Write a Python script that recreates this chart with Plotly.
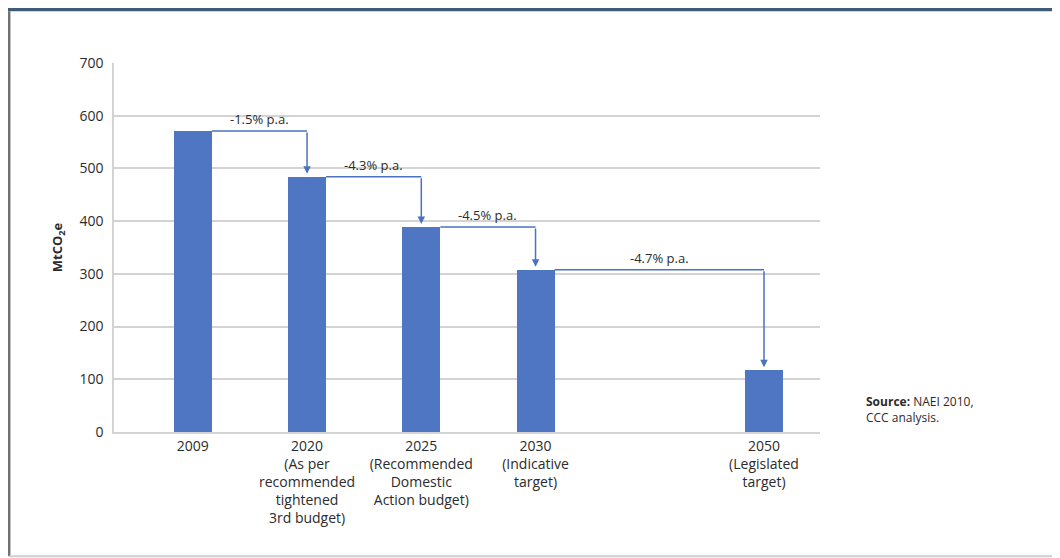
import plotly.graph_objects as go

# ---- data ----
years = ["2009", "2020", "2025", "2030", "2050"]
notes = ["", "(As per<br>recommended<br>tightened<br>3rd budget)",
         "(Recommended<br>Domestic<br>Action budget)",
         "(Indicative<br>target)", "(Legislated<br>target)"]
values = [571, 484, 389, 308, 117]
rates = ["-1.5% p.a.", "-4.3% p.a.", "-4.5% p.a.", "-4.7% p.a."]
axis_slots = ["2009", "2020", "2025", "2030", None, "2050"]  # empty slot before 2050

y_ticks = [0, 100, 200, 300, 400, 500, 600, 700]

# ---- styling ----
BAR = "#4f76c2"
LINE = "#4a72c0"
GRID = "#d3d3d3"
TXT = "#2b2b2b"
FONT = "Open Sans"
bar_w = 0.333

xpos = [axis_slots.index(y) for y in years]
ticktext = [y if not n else f"{y}<br>{n}" for y, n in zip(years, notes)]

fig = go.Figure()
fig.add_trace(go.Bar(x=xpos, y=values, width=bar_w, marker=dict(color=BAR, line=dict(width=0)),
                     showlegend=False, hoverinfo="skip"))

for i, r in enumerate(rates):
    x0 = xpos[i] + bar_w / 2
    x1 = xpos[i + 1]
    y0 = values[i]
    fig.add_trace(go.Scatter(x=[x0, x1], y=[y0, y0], mode="lines",
                             line=dict(color=LINE, width=1.5), showlegend=False, hoverinfo="skip"))
    fig.add_annotation(x=x1, y=values[i + 1], ax=x1, ay=y0, xref="x", yref="y",
                       axref="x", ayref="y", text="", showarrow=True, arrowhead=2,
                       arrowsize=1, arrowwidth=1.5, arrowcolor=LINE, standoff=3)
    fig.add_annotation(x=(x0 + x1) / 2, y=y0, xref="x", yref="y", text=r, showarrow=False,
                       yanchor="bottom", yshift=1, font=dict(family=FONT, size=13, color=TXT))

# source note
fig.add_annotation(xref="paper", yref="paper", x=1.063, y=0.06, xanchor="left", yanchor="middle",
                   align="left", showarrow=False,
                   text="<b>Source:</b> NAEI 2010,<br>CCC analysis.",
                   font=dict(family=FONT, size=12, color=TXT))

# frame shapes (paper coords relative to plot area)
fig.add_shape(type="rect", xref="paper", yref="paper", x0=-0.2, x1=1.4, y0=1.1400, y1=1.1495,
              fillcolor="#3e5b7a", line=dict(width=0), layer="above")
fig.add_shape(type="line", xref="paper", yref="paper", x0=-0.1484, x1=-0.1484, y0=1.14, y1=-0.337,
              line=dict(color="#707070", width=2.4))
fig.add_shape(type="line", xref="paper", yref="paper", x0=-0.1484, x1=1.4, y0=-0.337, y1=-0.337,
              line=dict(color="#c9d0d8", width=2))

fig.update_layout(
    width=1060, height=558,
    margin=dict(l=106, r=248, t=55, b=134),
    paper_bgcolor="white", plot_bgcolor="white",
    bargap=0,
    font=dict(family=FONT, size=14, color=TXT),
    xaxis=dict(range=[-0.69, 5.49], tickmode="array", tickvals=xpos, ticktext=ticktext,
               showgrid=False, zeroline=False, showline=True, linecolor=GRID, linewidth=1.5,
               ticks="", tickfont=dict(family=FONT, size=14, color=TXT)),
    yaxis=dict(range=[0, 700], tickmode="array", tickvals=y_ticks, showgrid=True,
               gridcolor=GRID, gridwidth=1.5, zeroline=False, showline=True, linecolor=GRID,
               linewidth=1.5, ticks="", ticklabelstandoff=6,
               tickfont=dict(family=FONT, size=14, color=TXT),
               title=dict(text="<b>MtCO<sub>2</sub>e</b>", standoff=14,
                          font=dict(family=FONT, size=13, color=TXT))),
)

fig.write_html("out.html")
